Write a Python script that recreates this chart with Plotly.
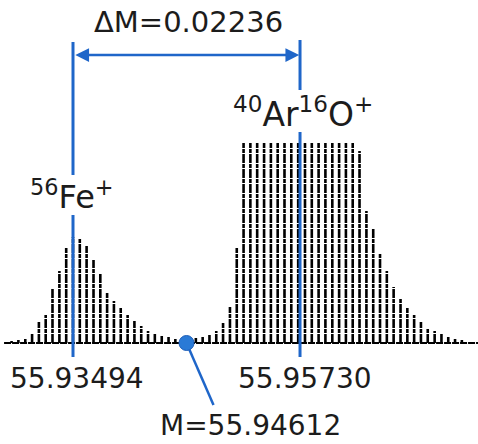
import plotly.graph_objects as go

# ---- data -------------------------------------------------------------
FE_MASS = 55.93494
ARO_MASS = 55.95730
MID_MASS = 55.94612
DELTA_M = 0.02236

scan_mass = [
    55.92889, 55.92956, 55.93024, 55.93091, 55.93158, 55.93225, 55.93292, 55.93360,
    55.93427, 55.93494, 55.93561, 55.93628, 55.93696, 55.93763, 55.93830, 55.93897,
    55.93964, 55.94032, 55.94099, 55.94166, 55.94233, 55.94300, 55.94368, 55.94435,
    55.94502, 55.94569, 55.94636, 55.94704, 55.94771, 55.94838, 55.94905, 55.94972,
    55.95040, 55.95107, 55.95174, 55.95241, 55.95308, 55.95376, 55.95443, 55.95510,
    55.95577, 55.95644, 55.95712, 55.95779, 55.95846, 55.95913, 55.95980, 55.96048,
    55.96115, 55.96182, 55.96249, 55.96316, 55.96384, 55.96451, 55.96518, 55.96585,
    55.96652, 55.96720, 55.96787, 55.96854, 55.96921, 55.96988, 55.97056, 55.97123,
    55.97190, 55.97257, 55.97324,
]
# relative intensity (flat top of ArO+ = 100)
scan_intensity = [
    1, 1.5, 2, 5, 10.5, 14, 27.5, 36,
    47.5, 53, 52, 48.5, 41.5, 34.5, 25, 21,
    17.5, 14, 11, 8.5, 6, 4.5, 3.5, 3,
    2, 1.5, 1.5, 2.5, 3, 4, 6, 10,
    18, 47.5, 100, 100, 100, 100, 100, 100,
    100, 100, 100, 100, 100, 100, 100, 100,
    100, 100, 100, 96, 66, 57, 45, 36,
    28, 22, 17.5, 14, 10.5, 7.5, 6, 4.5,
    3, 2, 1.5,
]

tick_labels = ["55.93494", "55.95730"]
peak_labels = ["<sup>56</sup>Fe<sup>+</sup>", "<sup>40</sup>Ar<sup>16</sup>O<sup>+</sup>"]
delta_label = "ΔM=0.02236"
mid_label = "M=55.94612"

# ---- figure -----------------------------------------------------------
BLUE = "#1f66c9"
TXT = "#1c1c1c"
FONT = "DejaVu Sans"

X_RANGE = [55.92775, 55.97483]
Y_RANGE = [-50.5, 171.5]

fig = go.Figure()

# spectrum bars as dotted vertical strokes
bx, by = [], []
for m, v in zip(scan_mass, scan_intensity):
    bx += [m, m, None]
    by += [0, v, None]
fig.add_trace(go.Scatter(x=bx, y=by, mode="lines",
                         line=dict(color="black", width=2.6, dash="9px,1px,4px,1px"),
                         hoverinfo="skip", showlegend=False))

# baseline
fig.add_trace(go.Scatter(x=[X_RANGE[0] + 0.0004, X_RANGE[1]], y=[0, 0], mode="lines",
                         line=dict(color="black", width=2.2, dash="7px,1px"),
                         hoverinfo="skip", showlegend=False))

# blue marker lines
def vline(x, y0, y1):
    fig.add_trace(go.Scatter(x=[x, x], y=[y0, y1], mode="lines",
                             line=dict(color=BLUE, width=3),
                             hoverinfo="skip", showlegend=False))

vline(FE_MASS, 150.5, 84)
vline(FE_MASS, 64, -7)
vline(ARO_MASS, 151.5, 126.5)
vline(ARO_MASS, 105.5, -7)

# double arrow showing delta M
fig.add_annotation(x=ARO_MASS - 0.00008, y=144, ax=FE_MASS + 0.00008, ay=144,
                   xref="x", yref="y", axref="x", ayref="y",
                   text="", showarrow=True, arrowhead=2, arrowside="end+start",
                   arrowsize=1.1, arrowwidth=2.5, arrowcolor=BLUE,
                   standoff=0, startstandoff=0)

# mid-point marker with pointer line
fig.add_trace(go.Scatter(x=[MID_MASS, MID_MASS + 0.00266], y=[0, -31], mode="lines",
                         line=dict(color=BLUE, width=2.5),
                         hoverinfo="skip", showlegend=False))
fig.add_trace(go.Scatter(x=[MID_MASS], y=[0], mode="markers",
                         marker=dict(color="#2a7ad6", size=15,
                                     line=dict(color="#1f5fb8", width=1)),
                         hoverinfo="skip", showlegend=False))

# texts
def label(x, y, text, size):
    fig.add_annotation(x=x, y=y, xref="x", yref="y", text=text, showarrow=False,
                       xanchor="center", yanchor="middle",
                       font=dict(family=FONT, size=size, color=TXT))

label((FE_MASS + ARO_MASS) / 2 + 0.0002, 160.5, delta_label, 29)
label(FE_MASS + 0.0004, -17.5, tick_labels[0], 28)
label(ARO_MASS + 0.0005, -17.5, tick_labels[1], 28)
label(MID_MASS + 0.0063, -41, mid_label, 28)
label(FE_MASS - 0.0001, 74, peak_labels[0], 32)
label(ARO_MASS + 0.0003, 115.5, peak_labels[1], 33)

fig.update_xaxes(range=X_RANGE, visible=False)
fig.update_yaxes(range=Y_RANGE, visible=False)
fig.update_layout(width=478, height=444, margin=dict(l=0, r=0, t=0, b=0),
                  plot_bgcolor="white", paper_bgcolor="white")

fig.write_html("out.html", config={"displayModeBar": False},
               post_script="document.body.style.margin='0';document.body.style.overflow='hidden';")
